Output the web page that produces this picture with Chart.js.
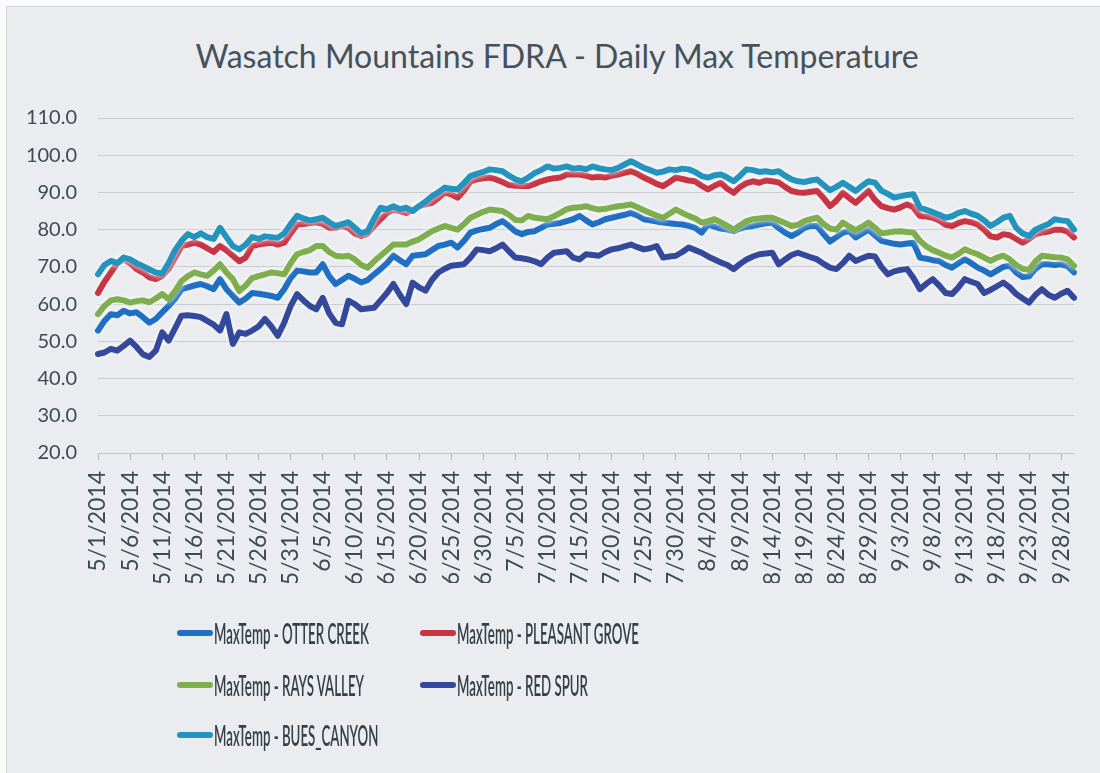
<!DOCTYPE html>
<html>
<head>
<meta charset="utf-8">
<script src="https://cdn.jsdelivr.net/npm/chart.js@4.4.1/dist/chart.umd.min.js"></script>
<style>
html,body{margin:0;padding:0;background:#fbfbfb;}
#wrap{position:relative;width:1100px;height:773px;overflow:hidden;background:#fbfbfb;}
#frame{position:absolute;left:6px;top:6px;width:1094px;height:767px;background:#eaecef;border-left:1px solid #d2d4d6;border-top:1px solid #d2d4d6;}
#chart{position:absolute;left:0;top:0;}
#title{position:absolute;left:0;width:1114px;top:36px;text-align:center;font-family:Lato,"Open Sans",sans-serif;font-size:32px;line-height:40px;color:#46525a;white-space:nowrap;}
.li{position:absolute;height:34px;display:flex;align-items:center;}
.sw{width:36px;height:6px;border-radius:3px;flex:none;}
.lt{font-family:Lato,"Open Sans",sans-serif;font-size:28px;font-weight:600;color:#353f45;transform-origin:left center;white-space:nowrap;margin-left:1px;}
</style>
</head>
<body>
<div id="wrap">
  <div id="frame"></div>
  <div id="title"></div>
  <canvas id="chart" width="1100" height="773"></canvas>
  <div id="legend"></div>
</div>
<script>
const TITLE = "Wasatch Mountains FDRA - Daily Max Temperature";
const MONTH_DAYS = [[5,31],[6,30],[7,31],[8,31],[9,30]];
const YEAR = 2014;
const Y_MIN = 20, Y_MAX = 110, Y_STEP = 10;
const LABEL_EVERY = 5;

const SERIES_NAMES = [
  "MaxTemp - OTTER CREEK",
  "MaxTemp - PLEASANT GROVE",
  "MaxTemp - RAYS VALLEY",
  "MaxTemp - RED SPUR",
  "MaxTemp - BUES_CANYON"
];

const OTTER_CREEK = [
  52.9,55.5,57.3,57.0,58.2,57.5,57.8,56.5,55.0,56.0,
  57.8,59.5,61.5,64.0,64.5,65.0,65.4,64.8,64.0,66.7,
  64.0,62.2,60.4,61.5,63.0,62.8,62.5,62.2,61.7,64.0,
  67.0,69.0,68.8,68.5,68.5,70.7,67.5,65.4,66.5,67.6,
  66.8,65.8,66.5,68.0,69.4,71.0,73.0,71.8,70.7,73.0,
  73.2,73.4,74.5,75.6,76.0,76.5,75.2,77.0,79.2,79.8,
  80.2,80.5,81.5,82.3,81.0,79.5,78.8,79.4,79.6,80.5,
  81.4,81.6,81.8,82.3,82.8,83.7,82.5,81.4,82.0,82.8,
  83.2,83.6,84.0,84.5,83.8,82.8,82.5,82.2,81.9,81.7,
  81.5,81.4,81.0,80.5,79.2,81.4,80.8,80.3,80.0,79.6,
  80.3,80.8,81.0,81.4,81.7,81.9,80.5,79.2,78.3,79.2,
  80.5,81.0,81.0,78.8,76.8,78.0,79.2,79.6,77.9,79.0,
  80.0,78.5,77.0,76.6,76.2,76.0,76.3,76.5,72.5,72.2,
  71.8,71.6,70.5,69.8,71.0,72.0,71.0,69.8,69.0,68.0,
  69.0,70.0,70.3,68.5,67.3,67.5,69.5,70.7,70.7,70.5,
  70.7,70.2,68.5
];

const PLEASANT_GROVE = [
  63.0,66.0,68.5,71.0,72.0,71.0,69.4,68.5,67.2,66.7,
  67.6,69.5,72.5,75.6,76.0,76.5,76.0,75.0,74.0,75.6,
  74.5,73.0,71.5,72.5,75.6,76.0,76.3,76.5,76.0,76.5,
  79.0,81.4,81.5,81.8,82.0,81.6,80.5,80.5,81.0,80.5,
  79.0,78.3,79.0,81.0,82.8,84.5,85.4,85.0,84.5,85.2,
  86.3,86.8,87.2,88.5,90.0,89.5,88.6,90.5,93.0,93.5,
  93.8,94.0,93.5,92.8,92.0,91.8,91.7,91.7,92.3,93.0,
  93.5,93.8,94.0,94.8,94.8,94.8,94.5,94.0,94.2,94.0,
  94.5,94.8,95.3,95.7,95.0,94.0,93.2,92.3,91.7,92.8,
  94.0,93.6,93.2,93.0,91.8,90.8,91.8,92.6,91.0,89.9,
  91.5,92.5,93.0,92.6,93.2,93.0,92.7,91.5,90.4,90.0,
  89.9,90.2,90.4,88.5,86.3,87.8,89.9,88.5,87.2,88.8,
  90.4,88.0,86.3,85.8,85.4,86.0,86.8,86.0,83.7,83.5,
  83.2,82.5,81.3,81.0,81.8,82.3,82.0,81.4,80.0,78.2,
  77.9,78.8,78.5,77.5,76.5,77.5,78.8,79.2,79.5,80.0,
  80.0,79.5,77.9
];

const RAYS_VALLEY = [
  57.3,59.5,61.0,61.3,61.0,60.4,60.8,61.0,60.5,61.5,
  62.7,61.3,63.5,66.2,67.5,68.5,68.0,67.6,69.0,70.7,
  68.5,66.7,63.5,65.0,67.0,67.5,68.0,68.5,68.3,68.0,
  71.0,73.4,74.0,74.5,75.6,75.6,74.0,73.0,72.8,73.0,
  72.0,70.5,69.8,71.5,73.0,74.5,76.0,76.0,76.0,76.8,
  77.4,78.5,79.6,80.3,81.0,80.5,80.0,81.5,83.2,84.0,
  84.8,85.4,85.2,85.0,84.0,82.6,82.5,83.7,83.2,83.0,
  82.8,83.6,84.5,85.5,85.9,86.0,86.3,85.8,85.4,85.6,
  86.0,86.3,86.5,86.8,86.0,85.2,84.5,83.8,83.2,84.3,
  85.4,84.5,83.7,83.0,81.9,82.3,82.8,82.0,81.0,80.0,
  81.2,82.3,82.8,83.0,83.2,83.2,82.5,81.8,81.0,81.3,
  82.3,82.8,83.2,81.5,80.3,80.0,81.9,80.8,79.8,80.8,
  81.9,80.5,79.0,79.2,79.5,79.6,79.4,79.2,77.0,75.5,
  74.5,73.8,73.0,72.5,73.5,74.7,74.0,73.4,72.5,71.6,
  72.5,73.0,72.0,70.5,69.5,69.2,71.5,73.0,72.8,72.6,
  72.5,72.0,70.3
];

const RED_SPUR = [
  46.6,47.0,48.0,47.5,48.8,50.2,48.5,46.5,45.8,47.5,
  52.4,50.2,53.5,56.9,57.0,56.8,56.5,55.5,54.5,52.9,
  57.3,49.3,52.4,52.0,52.9,54.0,56.0,54.0,51.5,55.0,
  59.5,62.7,61.0,59.5,58.6,61.7,57.5,55.0,54.6,60.9,
  60.0,58.6,58.8,59.0,61.0,63.0,65.4,62.5,60.0,65.8,
  64.5,63.6,66.5,68.5,69.5,70.3,70.5,70.7,72.5,74.7,
  74.5,74.2,75.0,76.0,74.2,72.5,72.3,72.0,71.5,70.7,
  72.5,73.8,74.0,74.2,72.5,72.0,73.4,73.2,73.0,74.0,
  74.7,75.0,75.5,76.0,75.3,74.7,75.0,75.6,72.5,72.8,
  73.0,74.0,75.2,74.5,73.8,72.8,72.0,71.2,70.5,69.4,
  70.8,72.0,72.8,73.4,73.6,73.8,70.7,72.0,73.2,73.8,
  73.2,72.6,72.0,70.8,69.8,69.4,71.0,73.0,71.6,72.3,
  73.0,72.8,70.0,68.0,68.8,69.2,69.4,67.0,64.0,65.5,
  66.7,65.0,63.0,62.7,64.5,66.7,66.0,65.4,63.0,63.8,
  64.8,65.8,64.5,62.7,61.5,60.4,62.5,64.0,62.5,61.7,
  62.8,63.6,61.7
];

const BUES_CANYON = [
  68.0,70.5,71.6,71.0,72.5,72.0,71.0,70.2,69.3,68.5,
  68.2,71.0,74.5,77.0,78.8,78.0,79.0,78.0,77.5,80.5,
  78.0,75.6,74.7,76.0,78.0,77.5,78.2,78.0,77.8,79.0,
  81.5,83.7,83.0,82.5,82.8,83.2,82.0,81.0,81.5,82.0,
  80.5,79.0,79.6,83.0,85.9,85.5,86.3,85.5,85.9,85.0,
  86.3,87.5,89.0,90.0,91.3,91.0,90.8,92.5,94.4,95.0,
  95.5,96.2,96.0,95.7,94.5,93.5,93.0,94.0,95.2,96.0,
  97.0,96.4,96.6,97.0,96.4,96.6,96.2,97.0,96.5,96.2,
  96.0,96.6,97.5,98.4,97.5,96.6,96.0,95.3,95.6,96.2,
  96.0,96.4,96.2,95.5,94.4,94.0,94.6,94.8,94.0,93.0,
  94.5,96.2,96.0,95.5,95.7,95.4,95.7,94.5,93.5,93.0,
  92.8,93.2,93.5,92.0,90.6,91.5,92.6,91.5,90.4,91.8,
  93.0,92.6,90.5,89.6,88.6,89.0,89.3,89.5,85.9,85.3,
  84.7,84.0,83.2,83.6,84.5,85.0,84.3,83.7,82.5,81.0,
  82.0,83.2,83.7,80.5,79.0,78.3,80.0,80.8,81.5,82.8,
  82.5,82.3,80.0
];

const SERIES_VALUES = [OTTER_CREEK, PLEASANT_GROVE, RAYS_VALLEY, RED_SPUR, BUES_CANYON];
const SERIES_COLORS = ["#1f6fc5", "#c93445", "#7fae4f", "#34489c", "#2394bd"];

// category labels: every day 5/1/2014 .. 9/30/2014
const DATES = [];
MONTH_DAYS.forEach(([m, n]) => { for (let d = 1; d <= n; d++) DATES.push(m + "/" + d + "/" + YEAR); });

const FONT = 'Lato, "Open Sans", sans-serif';
const TEXT_COLOR = '#3f4a50';

document.getElementById('title').textContent = TITLE;

const halo = {
  id: 'halo',
  beforeDatasetDraw(chart) {
    const c = chart.ctx; c.save();
    c.shadowColor = 'rgba(255,255,255,1)';
    c.shadowBlur = 5;
  },
  afterDatasetDraw(chart) { chart.ctx.restore(); }
};

const datasets = SERIES_NAMES.map((name, i) => ({
  label: name,
  data: SERIES_VALUES[i],
  borderColor: SERIES_COLORS[i],
  backgroundColor: SERIES_COLORS[i],
  borderWidth: 6,
  pointRadius: 0,
  tension: 0,
  borderJoinStyle: 'round',
  borderCapStyle: 'round',
  fill: false,
  order: SERIES_NAMES.length - i
}));

new Chart(document.getElementById('chart').getContext('2d'), {
  type: 'line',
  data: { labels: DATES, datasets },
  plugins: [halo],
  options: {
    responsive: false,
    animation: false,
    devicePixelRatio: 1,
    layout: { padding: { left: 8, right: 18, top: 118, bottom: 190 } },
    plugins: {
      legend: { display: false },
      tooltip: { enabled: false },
      title: { display: false }
    },
    scales: {
      x: {
        type: 'category',
        offset: false,
        afterBuildTicks(s) { s.ticks = s.ticks.filter((t, i) => i % LABEL_EVERY === 0); },
        ticks: {
          autoSkip: false, minRotation: 90, maxRotation: 90, padding: 11,
          color: TEXT_COLOR, font: { family: FONT, size: 23 },
          callback(v) { return this.getLabelForValue(v); }
        },
        grid: { display: true, drawOnChartArea: false, drawTicks: true, tickLength: 7, color: '#b5b8bb' },
        border: { display: true, color: '#c3c6c9', width: 1 },
        afterFit(s) { s.height = 130; }
      },
      y: {
        min: Y_MIN, max: Y_MAX,
        ticks: {
          stepSize: Y_STEP, padding: 21, color: TEXT_COLOR,
          font: { family: FONT, size: 20 },
          callback: v => Number(v).toFixed(1)
        },
        grid: { color: '#c9cbce', drawTicks: false },
        border: { display: false },
        afterFit(s) { s.width = 90; }
      }
    }
  }
});

// legend (two columns)
const LEGEND_POS = [[177, 633], [420, 633], [177, 685], [420, 685], [177, 735]];
const mctx = document.createElement('canvas').getContext('2d');
mctx.font = '600 28px ' + FONT;
const legendScale = 155 / mctx.measureText(SERIES_NAMES[0]).width;
const leg = document.getElementById('legend');
SERIES_NAMES.forEach((name, i) => {
  const it = document.createElement('div');
  it.className = 'li';
  it.style.left = LEGEND_POS[i][0] + 'px';
  it.style.top = (LEGEND_POS[i][1] - 17) + 'px';
  const sw = document.createElement('div');
  sw.className = 'sw';
  sw.style.background = SERIES_COLORS[i];
  const t = document.createElement('span');
  t.className = 'lt';
  t.textContent = name;
  t.style.transform = 'scaleX(' + legendScale.toFixed(3) + ')';
  it.appendChild(sw); it.appendChild(t);
  leg.appendChild(it);
});
</script>
</body>
</html>
